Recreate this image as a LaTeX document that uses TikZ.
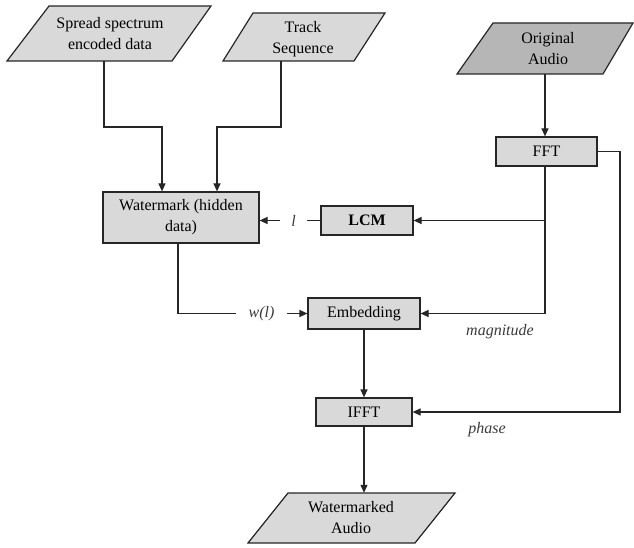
\documentclass[tikz,border=0pt]{standalone}
\usepackage{fontspec}
\setmainfont{Liberation Serif}
\newfontfamily\tnr{Liberation Serif}
\usetikzlibrary{arrows.meta}
\definecolor{lightfill}{HTML}{D9D9D9}
\definecolor{darkfill}{HTML}{B6B6B6}
\definecolor{linecol}{HTML}{262626}
\definecolor{lblcol}{HTML}{3A3A3A}
\begin{document}
\begin{tikzpicture}[x=1pt,y=-1pt,
  every node/.style={font=\tnr\fontsize{16}{21}\selectfont, text=black},
  box/.style={draw=linecol, line width=1.2pt, fill=lightfill, inner sep=0pt, align=center},
  para/.style={draw=linecol, line width=1.2pt, fill=lightfill},
  paradark/.style={para, fill=darkfill},
  ptext/.style={inner sep=0pt, align=center},
  conn/.style={draw=linecol, line width=1.2pt},
  arr/.style={conn, -{Triangle[length=8pt,width=7pt]}},
  lbl/.style={font=\tnr\fontsize{16}{21}\selectfont\itshape, inner sep=0pt, text=lblcol}
]
\useasboundingbox (0,0) rectangle (634,548);

% parallelograms (input / output)
\filldraw[para] (7,61) -- (172,61) -- (211,6) -- (49,6) -- cycle;
\node[ptext, minimum height=55pt] (ss) at (110,33.5) {Spread spectrum\\encoded data};

\filldraw[para] (223,61) -- (354,61) -- (385,13) -- (253,13) -- cycle;
\node[ptext, minimum height=44pt] (ts) at (303,39) {Track\\Sequence};

\filldraw[paradark] (457,74) -- (603,74) -- (633,23) -- (493,23) -- cycle;
\node[ptext, minimum height=51pt] (oa) at (548,48.5) {Original\\Audio};

\filldraw[para] (248,543) -- (415,543) -- (455,493) -- (288,493) -- cycle;
\node[ptext, minimum height=50pt] (wa) at (351,518) {Watermarked\\Audio};

% process boxes
\node[box, minimum width=156pt, minimum height=51pt] (wm) at (181,217.5) {Watermark (hidden\\data)};
\node[box, minimum width=92pt, minimum height=29pt, font=\tnr\fontsize{16}{21}\selectfont\bfseries] (lcm) at (367,220.5) {LCM};
\node[box, minimum width=101pt, minimum height=29pt] (fft) at (546.5,151.5) {FFT};
\node[box, minimum width=112pt, minimum height=31pt] (emb) at (364,313.5) {Embedding};
\node[box, minimum width=96pt, minimum height=28pt] (ifft) at (364,412) {IFFT};

% labels
\node[lbl, minimum width=27pt] (ll) at (293.5,220.5) {l};
\node[lbl, minimum width=51pt] (wl) at (261.5,313.5) {w(l)};
\node[lbl] (mag) at (500,332) {magnitude};
\node[lbl] (ph) at (487,430) {phase};

% bend points
\coordinate (b1) at (104,127);
\coordinate (b2) at (162,127);
\coordinate (b3) at (281,127);
\coordinate (b4) at (217,127);
\coordinate (pr) at (620,151.5);
\coordinate (br) at (545,220.5);

% connectors
\draw[arr] ([xshift=-6pt]ss.south) -- (b1) -- (b2) -- ([xshift=-19pt]wm.north);
\draw[arr] ([xshift=-22pt]ts.south) -- (b3) -- (b4) -- ([xshift=36pt]wm.north);
\draw[arr] ([xshift=-3pt]oa.south) -- ([xshift=-1.5pt]fft.north);
\draw[arr] (fft.east) -- (pr) |- (ifft.east);
\draw[arr] ([xshift=-1.5pt]fft.south) |- (emb.east);
\draw[arr] (br) -- (lcm.east);
\draw[conn] (lcm.west) -- (ll.east);
\draw[arr] (ll.west) -- (ll.west -| wm.east);
\draw[conn] ([xshift=-3pt]wm.south) |- (wl.west);
\draw[arr] (wl.east) -- (emb.west);
\draw[arr] (emb.south) -- (ifft.north);
\draw[arr] (ifft.south) -- (ifft.south |- wa.north);
\end{tikzpicture}
\end{document}
